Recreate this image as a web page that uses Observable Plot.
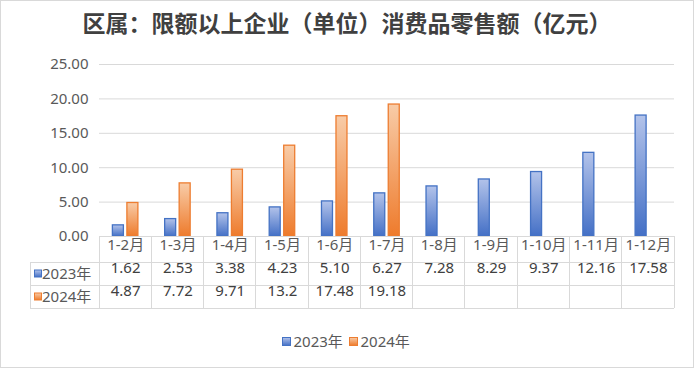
<!DOCTYPE html>
<html><head><meta charset="utf-8">
<script src="https://cdn.jsdelivr.net/npm/d3@7"></script>
<script src="https://cdn.jsdelivr.net/npm/@observablehq/plot@0.6"></script>
<style>
body{margin:0;background:#fff;}
#wrap{position:relative;width:694px;height:368px;font-family:"Noto Sans","Noto Sans CJK SC",sans-serif;overflow:hidden;}
#title{position:absolute;left:0;top:7px;width:694px;text-align:center;font-family:"Noto Sans CJK SC",sans-serif;font-weight:700;font-size:23px;color:#404040;line-height:30px;}
#border{position:absolute;left:0;top:0;width:692px;height:366px;border:1px solid #d9d9d9;pointer-events:none;}
#chart{position:absolute;left:0;top:0;}
</style></head><body>
<div id="wrap"><div id="chart"></div><div id="title">区属：限额以上企业（单位）消费品零售额（亿元）</div><div id="border"></div></div>
<script>
const categories = ["1-2月","1-3月","1-4月","1-5月","1-6月","1-7月","1-8月","1-9月","1-10月","1-11月","1-12月"];
const seriesNames = ["2023年","2024年"];
const values2023 = [1.62,2.53,3.38,4.23,5.10,6.27,7.28,8.29,9.37,12.16,17.58];
const values2024 = [4.87,7.72,9.71,13.2,17.48,19.18];
const labels2023 = ["1.62","2.53","3.38","4.23","5.10","6.27","7.28","8.29","9.37","12.16","17.58"];
const labels2024 = ["4.87","7.72","9.71","13.2","17.48","19.18"];
const yTicks = [0,5,10,15,20,25];

const palette = {
  "2023年": {stroke:"#4472c4", top:"#b3c3ea", bottom:"#4470c6", id:"g2023"},
  "2024年": {stroke:"#ed7d31", top:"#f8cca8", bottom:"#ee7b2c", id:"g2024"}
};

const d2023 = values2023.map((v,i)=>({category:categories[i], series:seriesNames[0], value:v, label:labels2023[i]}));
const d2024 = values2024.map((v,i)=>({category:categories[i], series:seriesNames[1], value:v, label:labels2024[i]}));

const W = 694, H = 368, mL = 99, mR = 20, mT = 64, mB = 132;
const band = (W - mL - mR) / categories.length;
const barW = 11, gap = 3.5;
const inset = (band - barW) / 2;
const off = (barW + gap) / 2;
const txtColor = "#595959";

const plot = Plot.plot({
  width: W, height: H,
  marginLeft: mL, marginRight: mR, marginTop: mT, marginBottom: mB,
  style: {fontFamily: '"Noto Sans","Noto Sans CJK SC",sans-serif', fontSize: "15px", color: txtColor, background: "transparent"},
  x: {domain: categories, padding: 0, axis: null, round: false},
  y: {domain: [0, 25], axis: null},
  marks: [
    Plot.gridY(yTicks.filter(t => t > 0), {stroke: "#d9d9d9", strokeOpacity: 1}),
    Plot.barY(d2023, {x: "category", y: "value", dx: -off, insetLeft: inset, insetRight: inset,
      fill: "url(#g2023)", stroke: palette["2023年"].stroke, strokeWidth: 1.3}),
    Plot.barY(d2024, {x: "category", y: "value", dx: off, insetLeft: inset, insetRight: inset,
      fill: "url(#g2024)", stroke: palette["2024年"].stroke, strokeWidth: 1.3}),
    Plot.ruleY([0], {stroke: "#d9d9d9"}),
    Plot.axisY({ticks: yTicks, tickFormat: d3.format(".2f"), tickSize: 0, tickPadding: 11, fontSize: 15, color: txtColor, label: null}),
    Plot.text(categories, {x: d => d, frameAnchor: "bottom", dy: 13, fontSize: 15, fill: txtColor}),
    Plot.text(d2023, {x: "category", text: "label", frameAnchor: "bottom", dy: 36.5, fontSize: 15, fill: "#404040"}),
    Plot.text(d2024, {x: "category", text: "label", frameAnchor: "bottom", dy: 59.5, fontSize: 15, fill: "#404040"})
  ]
});
document.getElementById("chart").appendChild(plot);

const svg = d3.select(plot);
const defs = svg.insert("defs", ":first-child");
for (const s of seriesNames) {
  const p = palette[s];
  const g = defs.append("linearGradient").attr("id", p.id).attr("x1", 0).attr("y1", 0).attr("x2", 0).attr("y2", 1);
  g.append("stop").attr("offset", "0%").attr("stop-color", p.top);
  g.append("stop").attr("offset", "100%").attr("stop-color", p.bottom);
}

// table grid, positioned from the x scale
const xs = plot.scale("x");
const edges = categories.map(c => xs.apply(c));
edges.push(edges[edges.length - 1] + xs.bandwidth);
const y0 = H - mB, r1 = y0 + 26, r2 = r1 + 23, r3 = r2 + 23;
const tbl = svg.append("g").attr("stroke", "#d9d9d9").attr("stroke-width", 1).attr("shape-rendering", "crispEdges");
for (const e of edges) tbl.append("line").attr("x1", e).attr("x2", e).attr("y1", y0).attr("y2", r3);
tbl.append("line").attr("x1", 30).attr("x2", 30).attr("y1", r1).attr("y2", r3);
for (const yy of [r1, r2, r3]) tbl.append("line").attr("x1", 30).attr("x2", edges[edges.length - 1]).attr("y1", yy).attr("y2", yy);

function swatch(g, x, y, s, size) {
  const p = palette[s];
  g.append("rect").attr("x", x).attr("y", y).attr("width", size).attr("height", size)
    .attr("fill", `url(#${p.id})`).attr("stroke", p.stroke).attr("stroke-width", 1);
}
const lab = svg.append("g").attr("font-size", 15).attr("fill", txtColor).attr("text-anchor", "start");
[[ (r1 + r2) / 2, seriesNames[0]], [(r2 + r3) / 2, seriesNames[1]]].forEach(([cy, s]) => {
  swatch(lab, 34.5, cy - 3.5, s, 7);
  lab.append("text").attr("x", 42).attr("y", cy).attr("dy", "0.35em").text(s);
});
// legend
const leg = svg.append("g").attr("font-size", 15).attr("fill", txtColor).attr("text-anchor", "start");
[[282.5, seriesNames[0]], [349.5, seriesNames[1]]].forEach(([lx, s]) => {
  swatch(leg, lx, 337.5, s, 8);
  leg.append("text").attr("x", lx + 11).attr("y", 341.5).attr("dy", "0.35em").text(s);
});
</script>
</body></html>
